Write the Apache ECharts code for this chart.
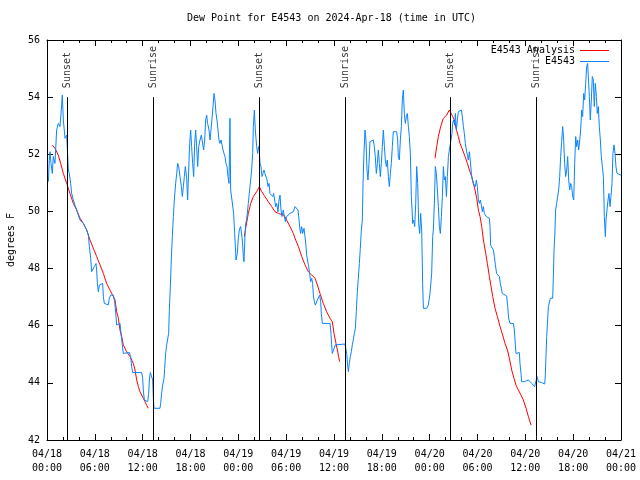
<!DOCTYPE html>
<html>
<head>
<meta charset="utf-8">
<script src="https://cdn.jsdelivr.net/npm/echarts@6/dist/echarts.min.js"></script>
<style>html,body{margin:0;padding:0;background:#fff;}#chart{width:640px;height:480px;}</style>
</head>
<body>
<div id="chart"></div>
<script>
// ---- data (hours since 2024-04-18 00:00 UTC, degrees F) ----
const dateLabels = ['04/18','04/18','04/18','04/18','04/19','04/19','04/19','04/19','04/20','04/20','04/20','04/20','04/21'];
const timeLabels = ['00:00','06:00','12:00','18:00','00:00','06:00','12:00','18:00','00:00','06:00','12:00','18:00','00:00'];

const sunEventHours = [2.55, 13.34, 26.64, 37.42, 50.6, 61.38];
const sunEventNames = ['Sunset', 'Sunrise', 'Sunset', 'Sunrise', 'Sunset', 'Sunrise'];

const observed = [[0.17,51.04],[0.29,51.8],[0.38,52.09],[0.5,51.68],[0.67,51.33],[0.79,51.92],[1.0,51.68],[1.21,52.85],[1.42,53.08],[1.63,52.97],[1.84,53.73],[1.92,54.07],[2.05,53.2],[2.26,52.56],[2.47,52.67],[2.55,52.21],[2.68,51.45],[2.8,51.33],[2.97,50.98],[3.09,50.63],[3.3,50.4],[3.51,50.22],[3.72,50.05],[3.93,49.87],[4.14,49.7],[4.56,49.58],[4.98,49.35],[5.19,49.17],[5.31,48.77],[5.48,48.36],[5.6,47.89],[5.81,47.86],[5.94,48.07],[6.15,48.18],[6.23,47.95],[6.32,47.48],[6.44,47.19],[6.57,47.42],[6.73,47.48],[6.98,47.48],[7.07,47.02],[7.19,46.78],[7.69,46.73],[7.82,46.96],[7.99,47.07],[8.32,47.07],[8.49,46.84],[8.66,46.32],[8.74,46.02],[9.16,46.08],[9.28,45.73],[9.45,45.33],[9.57,45.03],[10.33,45.06],[10.49,44.92],[10.62,44.57],[10.75,44.36],[11.87,44.36],[12.0,44.16],[12.08,43.75],[12.21,43.4],[12.63,43.34],[12.75,43.63],[12.84,44.1],[12.96,44.36],[13.21,44.36],[13.26,44.1],[13.34,43.46],[13.42,43.11],[14.17,43.11],[14.26,43.28],[14.38,43.63],[14.51,43.93],[14.68,44.16],[14.76,44.51],[14.88,45.03],[15.01,45.33],[15.18,45.38],[15.26,45.73],[15.34,46.49],[15.47,47.37],[15.59,48.3],[15.72,49.12],[15.85,49.82],[15.97,50.4],[16.14,50.98],[16.27,51.33],[16.39,51.68],[16.52,51.57],[16.68,51.22],[16.85,50.87],[16.98,50.52],[17.1,50.87],[17.23,51.22],[17.35,51.57],[17.52,51.16],[17.64,50.4],[17.77,51.45],[17.9,52.38],[18.02,52.85],[18.14,52.27],[18.27,51.68],[18.4,51.22],[18.52,52.38],[18.65,52.85],[18.77,52.27],[18.9,51.57],[19.03,52.27],[19.19,52.5],[19.36,52.67],[19.53,52.62],[19.65,52.15],[19.78,52.5],[19.9,53.2],[20.03,53.37],[20.15,53.08],[20.32,52.85],[20.45,52.5],[20.57,52.85],[20.7,53.26],[20.82,53.67],[20.95,54.13],[21.07,53.9],[21.2,53.43],[21.32,53.2],[21.45,52.85],[21.57,52.5],[21.7,52.38],[21.83,52.5],[21.95,52.33],[22.08,52.15],[22.2,52.03],[22.33,51.92],[22.45,51.68],[22.58,51.57],[22.7,51.22],[22.83,50.98],[22.95,53.26],[23.04,50.75],[23.29,50.75],[23.41,49.93],[23.54,49.23],[23.71,48.3],[23.87,48.53],[24.0,49.06],[24.12,49.35],[24.29,49.47],[24.5,49.0],[24.63,48.42],[24.71,48.24],[24.84,49.17],[24.92,49.58],[25.04,49.7],[25.25,50.28],[25.46,50.87],[25.67,51.45],[25.8,52.03],[25.88,52.97],[26.01,53.55],[26.13,52.85],[26.3,52.27],[26.42,52.03],[26.55,52.27],[26.63,52.15],[26.72,51.68],[26.84,51.57],[26.97,51.22],[27.09,51.33],[27.22,51.45],[27.34,51.33],[27.47,51.39],[27.6,51.1],[27.72,50.87],[27.85,50.98],[27.97,50.63],[28.31,50.52],[28.43,50.63],[28.56,50.4],[28.68,50.17],[28.81,50.28],[28.97,49.99],[29.1,50.4],[29.23,50.57],[29.35,50.05],[29.48,49.82],[29.64,50.05],[29.77,49.82],[29.9,49.64],[30.06,49.82],[30.48,49.93],[30.69,49.87],[30.9,49.99],[31.11,50.17],[31.32,50.17],[31.49,50.05],[31.61,49.7],[31.74,49.35],[31.82,49.23],[31.94,49.47],[32.07,49.23],[32.24,49.41],[32.36,49.12],[32.49,48.77],[32.57,48.47],[32.7,48.42],[32.82,48.07],[32.95,47.83],[33.07,47.54],[33.2,47.66],[33.32,47.48],[33.41,47.07],[33.53,46.84],[33.66,46.72],[33.91,46.9],[34.2,47.07],[34.33,46.84],[34.41,46.43],[34.54,46.08],[34.79,46.02],[35.0,46.08],[35.5,46.08],[35.62,45.73],[35.71,45.33],[35.79,45.03],[35.92,45.09],[36.17,45.33],[37.38,45.36],[37.5,45.33],[37.59,45.03],[37.71,44.62],[37.8,44.39],[37.92,44.68],[38.05,44.92],[38.17,45.09],[38.3,45.33],[38.42,45.5],[38.55,45.73],[38.68,45.91],[38.8,46.49],[38.93,47.19],[39.05,47.66],[39.18,48.18],[39.3,48.71],[39.43,49.35],[39.55,49.7],[39.64,50.98],[39.76,52.03],[39.89,52.85],[40.01,52.5],[40.14,51.45],[40.26,51.1],[40.39,51.68],[40.51,52.44],[40.93,52.5],[41.06,52.27],[41.18,51.92],[41.31,51.33],[41.44,51.68],[41.56,52.15],[41.69,51.68],[41.81,51.22],[41.94,51.68],[42.06,52.27],[42.19,52.85],[42.32,52.27],[42.44,51.8],[42.57,51.57],[42.69,51.8],[42.82,51.22],[42.94,50.87],[43.07,51.33],[43.19,51.68],[43.32,52.27],[43.44,52.79],[43.86,52.79],[43.99,52.5],[44.07,51.92],[44.2,51.8],[44.32,52.5],[44.45,52.97],[44.57,53.9],[44.7,54.25],[44.82,53.43],[44.95,53.08],[45.08,53.32],[45.2,53.43],[45.33,52.97],[45.45,52.62],[45.58,52.03],[45.7,50.52],[45.79,50.05],[45.87,49.58],[46.0,49.7],[46.12,49.47],[46.25,50.28],[46.37,51.57],[46.5,50.98],[46.62,49.58],[46.75,49.23],[46.87,49.93],[47.0,49.35],[47.12,47.48],[47.21,46.61],[47.63,46.61],[47.83,46.72],[48.04,47.13],[48.25,47.83],[48.38,49.12],[48.46,49.35],[48.59,50.28],[48.71,51.57],[48.84,51.33],[48.97,50.75],[49.09,50.17],[49.22,49.47],[49.34,49.23],[49.47,49.82],[49.59,50.52],[49.72,51.57],[49.84,51.1],[49.97,51.22],[50.1,50.52],[50.22,51.22],[50.35,51.92],[50.47,52.15],[50.72,52.21],[50.8,52.73],[50.88,53.08],[51.01,53.2],[51.14,53.02],[51.22,53.43],[51.35,52.85],[51.47,53.2],[51.6,53.49],[51.73,53.55],[51.98,53.55],[52.1,53.32],[52.23,52.97],[52.35,52.73],[52.48,52.38],[52.6,52.15],[52.73,51.97],[52.85,51.8],[52.98,52.09],[53.11,51.74],[53.23,51.33],[53.36,51.1],[53.48,50.98],[53.61,51.04],[53.73,50.87],[53.86,51.1],[53.98,50.87],[54.11,50.4],[54.23,50.28],[54.36,50.4],[54.48,50.22],[54.61,49.99],[54.73,50.17],[54.86,49.93],[55.11,49.82],[55.49,49.76],[55.57,49.47],[55.65,48.82],[55.99,48.65],[56.11,48.42],[56.24,48.13],[56.4,47.83],[56.74,47.72],[56.86,47.48],[56.99,47.31],[57.11,47.13],[57.66,47.04],[57.79,46.67],[57.91,46.26],[58.08,46.08],[58.5,46.08],[58.62,45.85],[58.75,45.33],[58.83,45.03],[59.25,45.06],[59.33,44.68],[59.46,44.33],[59.54,44.04],[59.71,44.01],[59.88,44.04],[60.0,44.1],[60.38,44.1],[60.8,43.98],[61.17,43.87],[61.26,43.81],[61.38,43.93],[61.47,44.22],[61.64,44.04],[62.05,44.01],[62.43,43.96],[62.51,44.27],[62.59,44.92],[62.68,45.62],[62.8,46.2],[62.89,46.67],[63.14,46.96],[63.43,46.96],[63.51,47.66],[63.6,48.65],[63.72,49.35],[63.8,50.05],[63.93,50.28],[64.06,50.34],[64.18,50.75],[64.31,51.22],[64.43,51.92],[64.56,52.44],[64.68,52.97],[64.81,52.5],[64.93,51.68],[65.06,51.22],[65.19,51.45],[65.31,51.92],[65.44,51.1],[65.56,50.75],[65.69,50.98],[65.81,50.87],[65.94,50.52],[66.07,50.4],[66.19,51.68],[66.32,52.62],[66.44,52.27],[66.57,52.5],[66.69,52.15],[66.82,52.5],[66.94,52.85],[67.07,53.55],[67.19,53.32],[67.32,54.13],[67.44,53.9],[67.57,54.48],[67.69,55.07],[67.82,55.18],[67.9,54.72],[68.03,54.02],[68.15,53.2],[68.28,53.9],[68.4,54.72],[68.53,54.6],[68.65,53.67],[68.78,54.48],[68.91,54.02],[69.03,53.43],[69.16,53.67],[69.28,52.97],[69.41,52.5],[69.53,51.92],[69.66,51.57],[69.79,51.22],[69.91,49.82],[70.04,49.12],[70.12,49.7],[70.24,50.05],[70.37,50.4],[70.49,50.63],[70.62,50.17],[70.74,50.52],[70.87,50.98],[70.99,52.03],[71.12,52.33],[71.25,52.03],[71.37,51.57],[71.5,51.33],[72.0,51.27]];

const analysisNight1 = [[0.67,52.32],[1.0,52.21],[1.42,51.97],[1.71,51.68],[2.05,51.33],[2.47,50.98],[2.88,50.63],[3.3,50.28],[3.72,50.05],[4.14,49.76],[4.56,49.58],[4.98,49.35],[5.39,49.0],[5.81,48.71],[6.23,48.42],[6.65,48.13],[7.07,47.83],[7.48,47.48],[7.9,47.25],[8.32,47.02],[8.53,46.9],[8.74,46.49],[8.95,46.26],[9.16,45.85],[9.37,45.62],[9.57,45.33],[9.99,45.09],[10.41,44.92],[10.83,44.68],[11.04,44.45],[11.25,44.1],[11.46,43.87],[11.66,43.69],[12.08,43.46],[12.5,43.22],[12.71,43.11]];
const analysisNight2 = [[24.75,49.12],[24.96,49.47],[25.25,49.93],[25.55,50.28],[25.88,50.52],[26.3,50.69],[26.64,50.87],[26.93,50.69],[27.34,50.52],[27.76,50.34],[28.18,50.17],[28.6,49.99],[29.02,49.93],[29.73,49.87],[30.06,49.7],[30.48,49.47],[30.9,49.23],[31.11,49.06],[31.53,48.77],[31.95,48.42],[32.36,48.13],[32.78,47.89],[33.2,47.78],[33.62,47.66],[33.91,47.43],[34.24,47.13],[34.66,46.78],[35.08,46.49],[35.5,46.26],[35.79,46.14],[36.0,45.73],[36.25,45.38],[36.42,45.15],[36.58,44.92],[36.71,44.74]];
const analysisNight3 = [[48.67,51.86],[48.88,52.27],[49.09,52.62],[49.38,52.97],[49.72,53.26],[50.13,53.37],[50.47,53.55],[50.68,53.61],[50.89,53.32],[51.1,53.2],[51.31,52.91],[51.6,52.62],[51.81,52.38],[52.14,52.15],[52.44,51.92],[52.73,51.68],[53.06,51.39],[53.27,51.22],[53.48,50.98],[53.69,50.75],[53.9,50.46],[54.11,50.05],[54.32,49.82],[54.53,49.47],[54.74,49.0],[54.82,48.88],[55.03,48.53],[55.24,48.18],[55.49,47.72],[55.7,47.37],[55.91,47.02],[56.2,46.61],[56.49,46.32],[56.83,45.97],[57.16,45.67],[57.45,45.38],[57.75,45.15],[58.0,44.86],[58.29,44.45],[58.58,44.16],[58.83,43.92],[59.13,43.75],[59.46,43.57],[59.75,43.4],[60.09,43.11],[60.38,42.82],[60.72,42.52]];

const sunLineBottom = 42;
const sunLineTop = 54;

// ---- chart ----
const FONT = 'DejaVu Sans Mono';
const chart = echarts.init(document.getElementById('chart'), null, {renderer: 'canvas'});

const analysisData = analysisNight1.concat([[null, null]], analysisNight2, [[null, null]], analysisNight3);

const axisCommon = {
  axisLine: {show: true, onZero: false, lineStyle: {color: '#000', width: 1}},
  axisTick: {show: true, inside: true, length: 6, lineStyle: {color: '#000'}},
  splitLine: {show: false}
};

chart.setOption({
  animation: false,
  backgroundColor: '#fff',
  title: {
    text: 'Dew Point for E4543 on 2024-Apr-18 (time in UTC)',
    left: 187, top: 13, padding: 0,
    textStyle: {fontFamily: FONT, fontSize: 10, fontWeight: 'normal', color: '#000'}
  },
  legend: {
    orient: 'vertical', right: 31, top: 45, align: 'right', padding: 0,
    itemWidth: 29, itemHeight: 1, itemGap: 0, icon: 'rect',
    textStyle: {fontFamily: FONT, fontSize: 10, color: '#000', lineHeight: 11},
    data: ['E4543 Analysis', 'E4543']
  },
  grid: {left: 47, right: 19, top: 40, bottom: 40, show: false, containLabel: false, outerBoundsMode: 'none'},
  xAxis: [
    Object.assign({}, axisCommon, {
      type: 'value', min: 0, max: 72, interval: 6, position: 'bottom',
      minorTick: {show: true, splitNumber: 3, length: 3, lineStyle: {color: '#000'}},
      axisLabel: {
        fontFamily: FONT, fontSize: 10, color: '#000', lineHeight: 14, margin: 7,
        formatter: function (v) { const i = Math.round(v / 6); return dateLabels[i] + '\n' + timeLabels[i]; }
      }
    }),
    Object.assign({}, axisCommon, {
      type: 'value', min: 0, max: 72, interval: 6, position: 'top',
      minorTick: {show: true, splitNumber: 3, length: 3, lineStyle: {color: '#000'}},
      axisLabel: {show: false}
    })
  ],
  yAxis: [
    Object.assign({}, axisCommon, {
      type: 'value', min: 42, max: 56, interval: 2, position: 'left',
      name: 'degrees F', nameLocation: 'middle', nameRotate: 90, nameGap: 31,
      nameTextStyle: {fontFamily: FONT, fontSize: 10, color: '#000'},
      axisLabel: {fontFamily: FONT, fontSize: 10, color: '#000', margin: 7}
    }),
    Object.assign({}, axisCommon, {
      type: 'value', min: 42, max: 56, interval: 2, position: 'right',
      axisLabel: {show: false}
    })
  ],
  series: [
    {
      name: 'E4543 Analysis', type: 'line', data: analysisData,
      showSymbol: false, symbol: 'none', connectNulls: false,
      lineStyle: {color: '#ff0000', width: 1}, itemStyle: {color: '#ff0000'}, z: 3
    },
    {
      name: 'E4543', type: 'line', data: observed,
      showSymbol: false, symbol: 'none',
      lineStyle: {color: '#0a84ff', width: 1}, itemStyle: {color: '#0a84ff'}, z: 4
    },
    {
      name: 'sun', type: 'scatter', silent: true, z: 2,
      symbolSize: 2, itemStyle: {color: 'rgba(0,0,0,0)'},
      data: sunEventHours.map(function (h) { return [h, sunLineTop]; }),
      label: {
        show: true, position: 'top', distance: 6, rotate: 90,
        align: 'left', verticalAlign: 'middle', offset: [2, 0],
        fontFamily: FONT, fontSize: 10, color: '#000',
        formatter: function (p) { return sunEventNames[p.dataIndex]; }
      },
      markLine: {
        silent: true, symbol: 'none', animation: false,
        label: {show: false},
        lineStyle: {color: '#000', width: 1, type: 'solid'},
        data: sunEventHours.map(function (h) { return [{coord: [h, sunLineBottom]}, {coord: [h, sunLineTop]}]; })
      }
    }
  ]
});
</script>
</body>
</html>
